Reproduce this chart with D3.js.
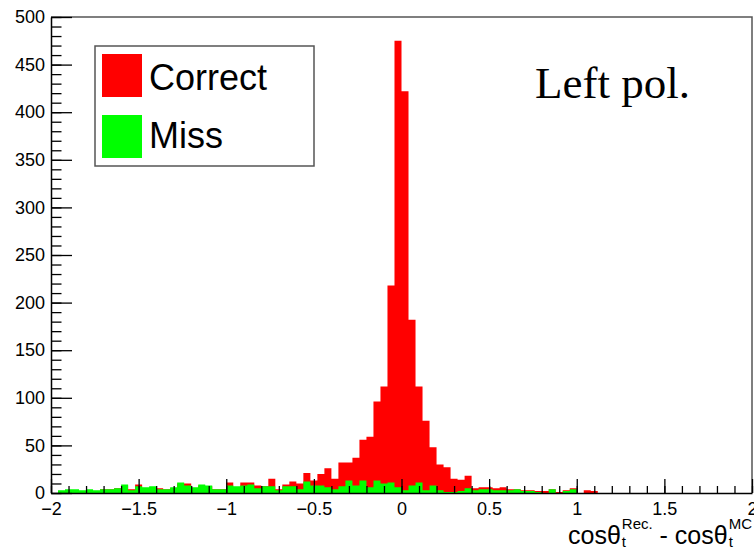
<!DOCTYPE html>
<html>
<head>
<meta charset="utf-8">
<script src="https://cdn.jsdelivr.net/npm/d3@7"></script>
<style>
  html, body { margin: 0; padding: 0; background: #fff; }
  svg { display: block; }
</style>
</head>
<body>
<svg id="chart" width="754" height="549"></svg>
<script>
// Histogram binning: 100 bins between -2 and 2
const xMin = -2, xMax = 2, nBins = 100;

// Counts per bin, correctly matched tops
const correct = [
  0, 2, 3, 3, 2, 3, 2, 4, 4, 5,
  8, 4, 9, 5, 6, 5, 4, 5, 10, 10,
  5, 8, 7, 4, 4, 11, 6, 11, 11, 8,
  7, 15, 4, 9, 12, 10, 21, 13, 20, 26,
  15, 32, 32, 37, 56, 59, 96, 112, 218, 475,
  422, 182, 112, 76, 48, 30, 27, 15, 14, 18,
  5, 6, 6, 5, 6, 4, 4, 3, 3, 2,
  2, 4, 1, 3, 5, 0, 3, 2, 0, 0,
  0, 0, 0, 0, 0, 0, 0, 0, 0, 0,
  0, 0, 0, 0, 0, 0, 0, 0, 0, 0
];

// Counts per bin, mismatched tops
const miss = [
  0, 3, 4, 4, 3, 4, 3, 4, 4, 5,
  9, 3, 7, 6, 7, 4, 4, 6, 11, 8,
  6, 9, 8, 4, 4, 8, 7, 8, 9, 5,
  7, 7, 3, 7, 7, 4, 12, 8, 8, 6,
  4, 7, 13, 8, 13, 6, 13, 10, 11, 6,
  3, 8, 11, 3, 8, 3, 1, 1, 2, 5,
  3, 4, 4, 3, 3, 3, 4, 2, 2, 1,
  0, 4, 0, 2, 4, 0, 0, 0, 0, 0,
  0, 0, 0, 0, 0, 0, 0, 0, 0, 0,
  0, 0, 0, 0, 0, 0, 0, 0, 0, 0
];

const xMajorTicks = [-2, -1.5, -1, -0.5, 0, 0.5, 1, 1.5, 2];
const yMajorTicks = [0, 50, 100, 150, 200, 250, 300, 350, 400, 450, 500];
const legendLabels = ["Correct", "Miss"];
const colors = ["#ff0000", "#00ff00"];
const sideNote = "Left pol.";

const W = 754, H = 549;
const frame = { left: 51, right: 752, top: 17, bottom: 493 };
const sans = "'Liberation Sans', Arial, Helvetica, sans-serif";

const svg = d3.select("#chart");
svg.append("rect").attr("width", W).attr("height", H).attr("fill", "#fff");

const x = d3.scaleLinear().domain([xMin, xMax]).range([frame.left, frame.right]);
const y = d3.scaleLinear().domain([0, 500]).range([frame.bottom, frame.top]);

const binW = (xMax - xMin) / nBins;
const edges = d3.range(nBins + 1).map(i => xMin + i * binW);

function histPoints(counts) {
  const pts = counts.map((c, i) => ({ x: edges[i], c }));
  pts.push({ x: edges[nBins], c: counts[nBins - 1] });
  return pts;
}

const area = d3.area()
  .x(d => x(d.x))
  .y0(y(0))
  .y1(d => y(d.c))
  .curve(d3.curveStepAfter);

const plot = svg.append("g");
[correct, miss].forEach((counts, k) => {
  plot.append("path")
    .datum(histPoints(counts))
    .attr("d", area)
    .attr("fill", colors[k])
    .attr("stroke", "none");
});

// Frame (top and right edges)
svg.append("path")
  .attr("d", `M${frame.left},${frame.top}H${frame.right}V${frame.bottom}`)
  .attr("fill", "none")
  .attr("stroke", "#555")
  .attr("stroke-width", 1.5);

const fmt = d3.format("");

// X axis: minor ticks then major ticks with labels (ticks point inward)
const xMinor = d3.range(-20, 21).map(i => i / 10);
svg.append("g")
  .attr("transform", `translate(0,${frame.bottom})`)
  .call(d3.axisBottom(x).tickValues(xMinor).tickSize(-7).tickSizeOuter(0).tickFormat(""))
  .call(g => g.select(".domain").remove());
const gx = svg.append("g")
  .attr("transform", `translate(0,${frame.bottom})`)
  .call(d3.axisBottom(x).tickValues(xMajorTicks).tickSize(-14).tickSizeOuter(0)
    .tickPadding(9).tickFormat(fmt));
gx.selectAll(".tick text").attr("font-size", 18).attr("font-family", sans).attr("fill", "#000");
gx.select(".domain").attr("stroke", "#000").attr("stroke-width", 1.5);

// Y axis
const yMinor = d3.range(0, 501, 10);
svg.append("g")
  .attr("transform", `translate(${frame.left},0)`)
  .call(d3.axisLeft(y).tickValues(yMinor).tickSize(-10.5).tickSizeOuter(0).tickFormat(""))
  .call(g => g.select(".domain").remove());
const gy = svg.append("g")
  .attr("transform", `translate(${frame.left},0)`)
  .call(d3.axisLeft(y).tickValues(yMajorTicks).tickSize(-21).tickSizeOuter(0)
    .tickPadding(6).tickFormat(fmt));
gy.selectAll(".tick text").attr("font-size", 18).attr("font-family", sans).attr("fill", "#000");
gy.select(".domain").attr("stroke", "#000").attr("stroke-width", 1.5);
svg.selectAll(".tick line").attr("stroke", "#000").attr("stroke-width", 1.3);

// Legend
const leg = svg.append("g");
leg.append("rect")
  .attr("x", 95).attr("y", 46).attr("width", 219).attr("height", 120)
  .attr("fill", "#fff").attr("stroke", "#555").attr("stroke-width", 1.5);
const swatchTop = [54, 115], textBase = [90, 148];
legendLabels.forEach((lab, k) => {
  leg.append("rect")
    .attr("x", 102).attr("y", swatchTop[k]).attr("width", 40).attr("height", 43)
    .attr("fill", colors[k]);
  leg.append("text")
    .attr("x", 149).attr("y", textBase[k])
    .attr("font-family", sans).attr("font-size", 36)
    .attr("fill", "#000")
    .text(lab);
});

// Side note
svg.append("text")
  .attr("x", 535).attr("y", 98)
  .attr("font-family", "'Liberation Serif', 'Times New Roman', serif")
  .attr("font-size", 45)
  .attr("fill", "#000")
  .text(sideNote);

// X axis title: cosθ_t^{Rec.} - cosθ_t^{MC}, right aligned to the frame edge
const titleG = svg.append("g").attr("font-family", sans).attr("fill", "#000");
const base = 544, mainSize = 25, smallSize = 15;
const pieces = [
  { main: "cos\u03b8", sup: "Rec.", sub: "t" },
  { main: " - cos\u03b8", sup: "MC", sub: "t" }
];
let cursor = 0;
const placed = [];
pieces.forEach(p => {
  const m = titleG.append("text").attr("y", base).attr("font-size", mainSize)
    .attr("xml:space", "preserve").style("white-space", "pre").text(p.main);
  const mw = m.node().getComputedTextLength();
  const sp = titleG.append("text").attr("y", base - 15).attr("font-size", smallSize).text(p.sup);
  const sb = titleG.append("text").attr("y", base + 3).attr("font-size", smallSize).text(p.sub);
  const sw = Math.max(sp.node().getComputedTextLength(), sb.node().getComputedTextLength());
  placed.push({ m, sp, sb, x: cursor, sx: cursor + mw + 1 });
  cursor += mw + 1 + sw;
});
const start = frame.right - cursor;
placed.forEach(p => {
  p.m.attr("x", start + p.x);
  p.sp.attr("x", start + p.sx);
  p.sb.attr("x", start + p.sx);
});
</script>
</body>
</html>
